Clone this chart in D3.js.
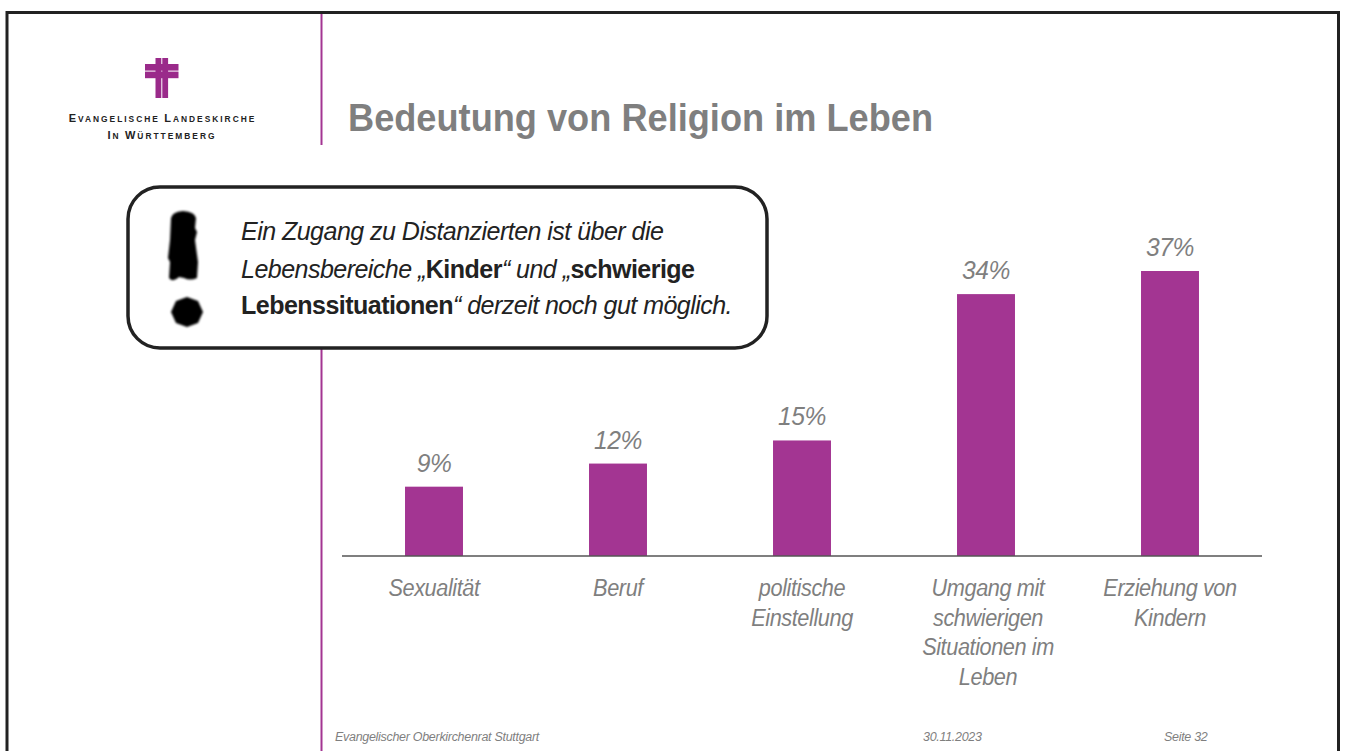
<!DOCTYPE html>
<html><head><meta charset="utf-8">
<script src="https://d3js.org/d3.v7.min.js"></script>
<style>
html,body{margin:0;padding:0;background:#fff;overflow:hidden}
svg{display:block;font-family:"Liberation Sans",Arial,sans-serif}
</style></head><body>
<svg id="c" width="1345" height="751"></svg>
<script>
const categories=[["Sexualität"],["Beruf"],["politische","Einstellung"],["Umgang mit","schwierigen","Situationen im","Leben"],["Erziehung von","Kindern"]];
const values=[9,12,15,34,37];
const valueLabels=["9%","12%","15%","34%","37%"];
const title="Bedeutung von Religion im Leben";
const footer=["Evangelischer Oberkirchenrat Stuttgart","30.11.2023","Seite 32"];

const svg=d3.select("#c");
const purple="#a33592", grey="#7f7f7f";
const defs=svg.append("defs");
defs.append("filter").attr("id","soft").append("feGaussianBlur").attr("stdDeviation",0.9);
// frame
svg.append("path").attr("d","M7,751V12.5H1338.5V751").attr("fill","none").attr("stroke","#222").attr("stroke-width",3);
svg.append("line").attr("x1",321.5).attr("x2",321.5).attr("y1",14).attr("y2",145).attr("stroke",purple).attr("stroke-width",2);
svg.append("line").attr("x1",321.5).attr("x2",321.5).attr("y1",349).attr("y2",751).attr("stroke",purple).attr("stroke-width",2);
// logo
const logo=svg.append("g").attr("fill","#9a2a8a");
logo.append("rect").attr("x",155.5).attr("y",58).attr("width",5.8).attr("height",40);
logo.append("rect").attr("x",162.3).attr("y",58).attr("width",5.8).attr("height",40);
logo.append("rect").attr("x",145).attr("y",64).attr("width",33.5).attr("height",6.6);
logo.append("rect").attr("x",145).attr("y",71.6).attr("width",33.5).attr("height",6.6);
const smallCaps=(y,x,parts)=>{
  const t=svg.append("text").attr("x",x).attr("y",y).attr("fill","#222").attr("font-weight",700).attr("text-anchor","middle").attr("letter-spacing","2px");
  parts.forEach(([s,f])=>t.append("tspan").attr("font-size",f).text(s));
};
smallCaps(122,162.5,[["E",11],["VANGELISCHE ",8.4],["L",11],["ANDESKIRCHE",8.4]]);
smallCaps(139,162,[["I",11],["N ",8.4],["W",11],["ÜRTTEMBERG",8.4]]);
// title
svg.append("text").attr("x",348).attr("y",131).attr("font-size",39).attr("font-weight",700).attr("fill",grey)
 .attr("textLength",585).attr("lengthAdjust","spacingAndGlyphs").text(title);

// chart
const x=d3.scaleBand().domain(d3.range(values.length)).range([342,1262]).paddingInner(0.685).paddingOuter(0.3425);
const y=d3.scaleLinear().domain([0,37]).range([556,271]);
const cx=i=>x(i)+x.bandwidth()/2;
svg.append("g").selectAll("rect").data(values).join("rect")
 .attr("x",(d,i)=>x(i)).attr("y",d=>y(d)).attr("width",x.bandwidth()).attr("height",d=>y(0)-y(d)).attr("fill",purple);
svg.append("line").attr("x1",342).attr("x2",1262).attr("y1",556).attr("y2",556).attr("stroke","#555").attr("stroke-width",1.5);
svg.append("g").selectAll("text").data(values).join("text")
 .attr("transform",(d,i)=>`translate(${cx(i)},${y(d)-15}) scale(.93,1)`).attr("text-anchor","middle")
 .attr("font-size",26.5).attr("font-style","italic").attr("fill",grey).attr("letter-spacing","-0.5px").text((d,i)=>valueLabels[i]);
const lab=svg.append("g").selectAll("text").data(categories).join("text")
 .attr("transform",(d,i)=>`translate(${cx(i)+[0,0,0,2,0][i]},0) scale(.945,1)`)
 .attr("text-anchor","middle").attr("font-size",23).attr("font-style","italic").attr("fill",grey).attr("letter-spacing","-0.45px");
lab.each(function(d){
  d3.select(this).selectAll("tspan").data(d).join("tspan").attr("x",0).attr("y",(s,j)=>596+j*29.6).text(s=>s);
});

// callout
svg.append("rect").attr("x",128).attr("y",187).attr("width",639).attr("height",161).attr("rx",32).attr("ry",32)
 .attr("fill","#fff").attr("stroke","#222").attr("stroke-width",3.5);
const mark=svg.append("g").attr("filter","url(#soft)").attr("fill","#000");
mark.append("path").attr("d","M171,218Q172,212 183,211Q195,212 196,218L195,228L197,232L195,240L198,262L197,278Q190,281 184,278L179,277Q173,283 169,278L170,262L168,258L170,240Z");
mark.append("path").attr("d","M187,297L198,301L203,312L198,323L187,327L176,323L171,312L176,301Z");
const ct=svg.append("g").attr("transform","translate(241,0) scale(.982,1)").attr("font-size",25.5).attr("fill","#222").attr("letter-spacing","-0.55px");
ct.append("text").attr("x",0).attr("y",240).attr("font-style","italic").text("Ein Zugang zu Distanzierten ist über die");
const l2=ct.append("text").attr("x",0).attr("y",278);
l2.append("tspan").attr("font-style","italic").text("Lebensbereiche „");
l2.append("tspan").attr("font-weight",700).text("Kinder");
l2.append("tspan").attr("font-style","italic").text("“ und „");
l2.append("tspan").attr("font-weight",700).text("schwierige");
const l3=ct.append("text").attr("x",0).attr("y",314);
l3.append("tspan").attr("font-weight",700).text("Lebenssituationen");
l3.append("tspan").attr("font-style","italic").text("“ derzeit noch gut möglich.");

// footer
const fx=[335,923,1164];
svg.append("g").selectAll("text").data(footer).join("text").attr("x",(d,i)=>fx[i]).attr("y",741)
 .attr("font-size",12.5).attr("font-style","italic").attr("fill",grey).attr("letter-spacing","-0.3px").text(d=>d);
</script></body></html>
